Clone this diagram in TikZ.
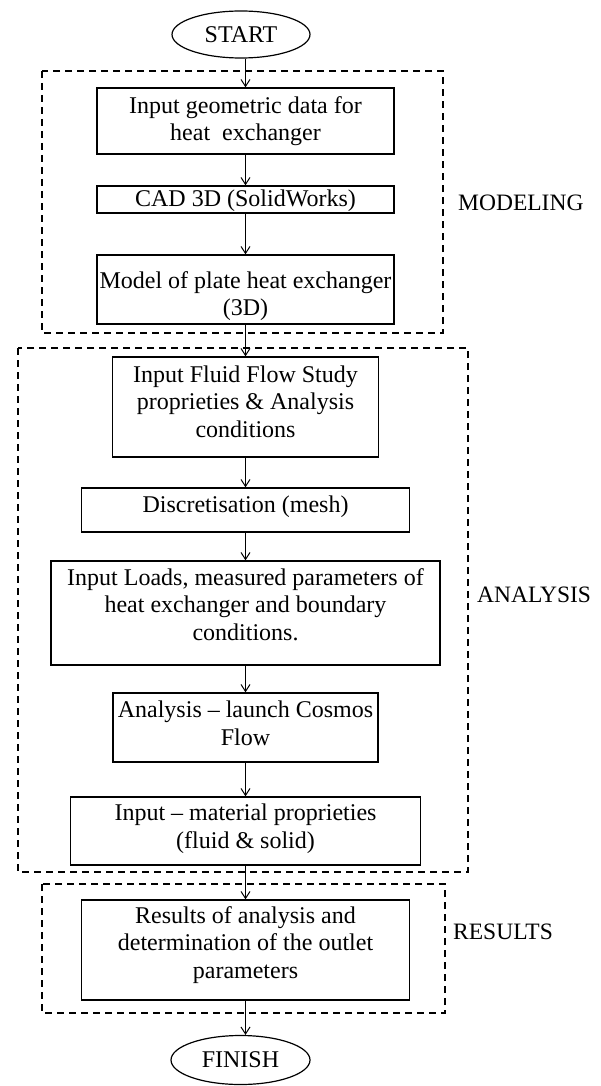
\documentclass[tikz,border=0pt]{standalone}
\usepackage{fontspec}
\setmainfont{Liberation Serif}
\usetikzlibrary{arrows.meta,shapes.geometric}
\newcommand{\boxtxt}[4]{\parbox[c][#2pt][t]{#1pt}{\centering\rule{0pt}{#3pt}#4}}
\begin{document}
\begin{tikzpicture}[x=1pt,y=-1pt,
  txt/.style={font=\fontsize{24}{27.5}\selectfont},
  box/.style={txt, draw, line width=1.3pt, inner sep=0pt},
  term/.style={txt, draw, ellipse, line width=1.2pt, inner sep=0pt},
  grp/.style={draw, line width=1.1pt, dash pattern=on 7pt off 5pt},
  lbl/.style={font=\fontsize{23.5}{27.5}\selectfont, anchor=west, inner sep=0pt},
  flow/.style={line width=1pt, -{Straight Barb[length=7pt,width=9pt]}}]
\useasboundingbox (0,0) rectangle (601,1086);

% group frames
\draw[grp] (42,71) rectangle (443,333);
\draw[grp] (18,348) rectangle (468,872);
\draw[grp] (42,884) rectangle (445,1013);

% terminals
\node[term, minimum width=138, minimum height=47] (start) at (241,34.5) {START};
\node[term, minimum width=139, minimum height=49] (finish) at (240.5,1060) {FINISH};

% process boxes
\node[box] (b1) at (245.5,121) {\boxtxt{297}{66}{25.5}{Input geometric data for\\heat\ \ exchanger}};
\node[box] (b2) at (245.5,199.5) {\boxtxt{297}{27}{21}{CAD 3D (SolidWorks)}};
\node[box] (b3) at (245.5,289.5) {\boxtxt{297}{69}{33}{Model of plate heat exchanger\\(3D)}};
\node[box] (b4) at (245.5,407) {\boxtxt{266}{100}{25}{Input Fluid Flow Study\\proprieties \& Analysis\\conditions}};
\node[box] (b5) at (245.5,510) {\boxtxt{328}{44}{24.5}{Discretisation (mesh)}};
\node[box] (b6) at (245.5,613) {\boxtxt{389}{104}{24}{Input Loads, measured parameters of\\heat exchanger and boundary\\conditions.}};
\node[box] (b7) at (245.5,727.5) {\boxtxt{265}{69}{24.5}{Analysis – launch Cosmos\\Flow}};
\node[box] (b8) at (245.5,831) {\boxtxt{350}{68}{23.5}{Input – material proprieties\\(fluid \& solid)}};
\node[box] (b9) at (245.5,950) {\boxtxt{328}{100}{23}{Results of analysis and\\determination of the outlet\\parameters}};

% group labels
\node[lbl] (lmod) at (458,203) {MODELING};
\node[lbl] (lana) at (477,595) {ANALYSIS};
\node[lbl] (lres) at (453,932) {RESULTS};

% connectors
\draw[flow] (start.south -| b1.north) -- (b1.north);
\draw[flow] (b1) -- (b2);
\draw[flow] (b2) -- (b3);
\draw[flow] (b3) -- (b4);
\draw[flow] (b4) -- (b5);
\draw[flow] (b5) -- (b6);
\draw[flow] (b6) -- (b7);
\draw[flow] (b7) -- (b8);
\draw[flow] (b8) -- (b9);
\draw[flow] (b9.south) -- (b9.south |- finish.north);
\end{tikzpicture}
\end{document}
